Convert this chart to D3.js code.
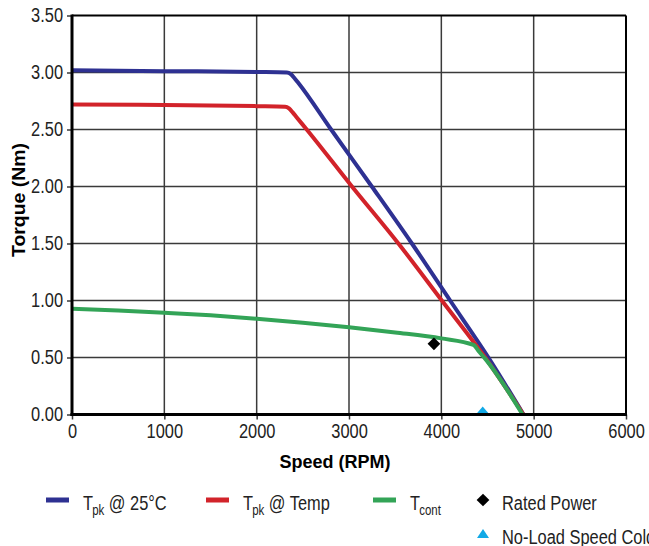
<!DOCTYPE html>
<html lang="en">
	<head>
		<meta charset="utf-8">
		<title>Torque vs Speed</title>
		<script type="text/javascript" src="https://cdn.jsdelivr.net/npm/d3@7"></script>
		<style type="text/css">
			body { margin: 0; background: #fff; }
			text { font-family: "Liberation Sans", Arial, sans-serif; fill: #222; }
			.title { font-weight: bold; font-size: 19px; fill: #000; }
		</style>
	</head>
	<body>
		<script type="text/javascript">

			// Width and height of the page
			var w = 649;
			var h = 546;

			// Axis ticks
			var speedTicks = [0, 1000, 2000, 3000, 4000, 5000, 6000];
			var torqueTicks = [0, 0.5, 1, 1.5, 2, 2.5, 3, 3.5];

			// Curves, [speed, torque]
			var tpk25 = [[0, 3.02], [1000, 3.012], [2000, 3.005], [2326, 3.0], [2370, 2.985], [2410, 2.95],
				[2450, 2.91], [2806, 2.5], [3247, 2.0], [3681, 1.5], [4095, 1.0], [4510, 0.5], [4890, 0]];
			var tpkTemp = [[0, 2.72], [1000, 2.715], [2000, 2.705], [2308, 2.70], [2350, 2.685], [2390, 2.65],
				[2430, 2.61], [2542, 2.5], [3032, 2.0], [3535, 1.5], [4005, 1.0], [4474, 0.5], [4890, 0]];
			var tcont = [[0, 0.928], [500, 0.913], [1000, 0.893], [1500, 0.87], [2000, 0.84], [2500, 0.805],
				[3000, 0.765], [3500, 0.72], [4000, 0.668], [4348, 0.61], [4410, 0.55], [4474, 0.49], [4880, 0]];

			// Single points
			var ratedPower = [[3920, 0.62]];
			var noLoadSpeedCold = [[4448, 0]];

			var colors = { blue: "#2e3192", red: "#d2232a", green: "#33a457", cyan: "#12a9e6" };

			// squeeze text to look like a condensed face
			function condense(sel, k) {
				sel.each(function() {
					var len = this.getComputedTextLength();
					d3.select(this).attr("textLength", len * k).attr("lengthAdjust", "spacingAndGlyphs");
				});
			}

			var svg = d3.select("body")
				.append("svg")
				.attr("width", w)
				.attr("height", h);

			var x = d3.scaleLinear().domain([0, 6000]).range([72, 626]);
			var y = d3.scaleLinear().domain([0, 3.5]).range([414.5, 15.5]);

			// grid
			svg.append("g").selectAll("line")
				.data(torqueTicks.slice(1, -1))
				.enter().append("line")
				.attr("x1", 72).attr("x2", 626)
				.attr("y1", function(d) { return y(d); })
				.attr("y2", function(d) { return y(d); })
				.attr("stroke", "#3a3a3a").attr("stroke-width", 1.5);

			svg.append("g").selectAll("line")
				.data(speedTicks.slice(1, -1))
				.enter().append("line")
				.attr("y1", 15.5).attr("y2", 414.5)
				.attr("x1", function(d) { return x(d); })
				.attr("x2", function(d) { return x(d); })
				.attr("stroke", "#3a3a3a").attr("stroke-width", 1.5);

			// axes
			var yAxis = svg.append("g")
				.attr("transform", "translate(72,0)")
				.call(d3.axisLeft(y).tickValues(torqueTicks).tickSize(5).tickPadding(4).tickFormat(d3.format(".2f")));
			var xAxis = svg.append("g")
				.attr("transform", "translate(0,414.5)")
				.call(d3.axisBottom(x).tickValues(speedTicks).tickSize(5).tickPadding(4).tickFormat(d3.format("d")));

			[yAxis, xAxis].forEach(function(a) {
				a.select(".domain").remove();
				a.selectAll("line").attr("stroke", "#3a3a3a").attr("stroke-width", 1.5);
				a.selectAll("text").attr("font-size", 20).attr("fill", "#262626")
					.style("font-family", "'Liberation Sans', Arial, sans-serif");
				condense(a.selectAll("text"), 0.82);
			});

			// frame
			svg.append("line").attr("x1", 72).attr("x2", 626).attr("y1", 15.5).attr("y2", 15.5)
				.attr("stroke", "#000").attr("stroke-width", 2);
			svg.append("line").attr("x1", 626).attr("x2", 626).attr("y1", 15.5).attr("y2", 414.5)
				.attr("stroke", "#000").attr("stroke-width", 2);

			// clip for marks
			svg.append("clipPath").attr("id", "plot")
				.append("rect").attr("x", 72).attr("y", 15.5).attr("width", 554).attr("height", 399);

			var line = d3.line()
				.x(function(d) { return x(d[0]); })
				.y(function(d) { return y(d[1]); })
				.curve(d3.curveMonotoneX);

			var marks = svg.append("g").attr("clip-path", "url(#plot)");

			[[tpk25, colors.blue], [tpkTemp, colors.red], [tcont, colors.green]].forEach(function(s) {
				marks.append("path")
					.attr("d", line(s[0]))
					.attr("fill", "none")
					.attr("stroke", s[1])
					.attr("stroke-width", 4)
					.attr("stroke-linejoin", "round");
			});

			marks.selectAll(".rated")
				.data(ratedPower)
				.enter().append("rect")
				.attr("class", "rated")
				.attr("x", -4.5).attr("y", -4.5).attr("width", 9).attr("height", 9)
				.attr("transform", function(d) { return "translate(" + x(d[0]) + "," + y(d[1]) + ") rotate(45)"; })
				.attr("fill", "#000");

			marks.selectAll(".noload")
				.data(noLoadSpeedCold)
				.enter().append("path")
				.attr("class", "noload")
				.attr("d", "M-6,0L6,0L0,-7Z")
				.attr("transform", function(d) { return "translate(" + x(d[0]) + "," + (y(d[1]) - 1) + ")"; })
				.attr("fill", colors.cyan);

			// axis lines on top
			svg.append("line").attr("x1", 72).attr("x2", 72).attr("y1", 14.5).attr("y2", 416)
				.attr("stroke", "#000").attr("stroke-width", 3);
			svg.append("line").attr("x1", 70.5).attr("x2", 627).attr("y1", 414.5).attr("y2", 414.5)
				.attr("stroke", "#000").attr("stroke-width", 3);

			// axis titles
			svg.append("text")
				.attr("class", "title")
				.attr("x", 335).attr("y", 468)
				.attr("text-anchor", "middle")
				.attr("textLength", 111).attr("lengthAdjust", "spacingAndGlyphs")
				.text("Speed (RPM)");

			svg.append("text")
				.attr("class", "title")
				.attr("transform", "translate(25,200) rotate(-90)")
				.attr("text-anchor", "middle")
				.attr("textLength", 114).attr("lengthAdjust", "spacingAndGlyphs")
				.text("Torque (Nm)");

			// legend
			var legendLines = [
				{ x: 46, color: colors.blue, main: "T", sub: "pk", rest: " @ 25°C" },
				{ x: 206, color: colors.red, main: "T", sub: "pk", rest: " @ Temp" },
				{ x: 373, color: colors.green, main: "T", sub: "cont", rest: "" }
			];

			var lg = svg.append("g").selectAll("g")
				.data(legendLines)
				.enter().append("g")
				.attr("transform", function(d) { return "translate(" + d.x + ",500)"; });

			lg.append("rect")
				.attr("x", 0).attr("y", -2.5).attr("width", 23).attr("height", 5)
				.attr("fill", function(d) { return d.color; });

			var lt = lg.append("text")
				.attr("transform", "translate(37,10) scale(0.82,1)")
				.attr("font-size", 20);
			lt.append("tspan").text(function(d) { return d.main; });
			lt.append("tspan").attr("font-size", 14).attr("dy", 5).attr("dx", -1).text(function(d) { return d.sub; });
			lt.append("tspan").attr("dy", -5).text(function(d) { return d.rest; });

			svg.append("rect")
				.attr("x", -4.5).attr("y", -4.5).attr("width", 9).attr("height", 9)
				.attr("transform", "translate(483,500) rotate(45)")
				.attr("fill", "#000");
			svg.append("text").attr("x", 502).attr("y", 510).attr("font-size", 20)
				.text("Rated Power").call(condense, 0.82);

			svg.append("path")
				.attr("d", "M-6,4L6,4L0,-5Z")
				.attr("transform", "translate(483,534)")
				.attr("fill", colors.cyan);
			svg.append("text").attr("x", 502).attr("y", 544).attr("font-size", 20)
				.text("No-Load Speed Cold").call(condense, 0.82);

		</script>
	</body>
</html>
